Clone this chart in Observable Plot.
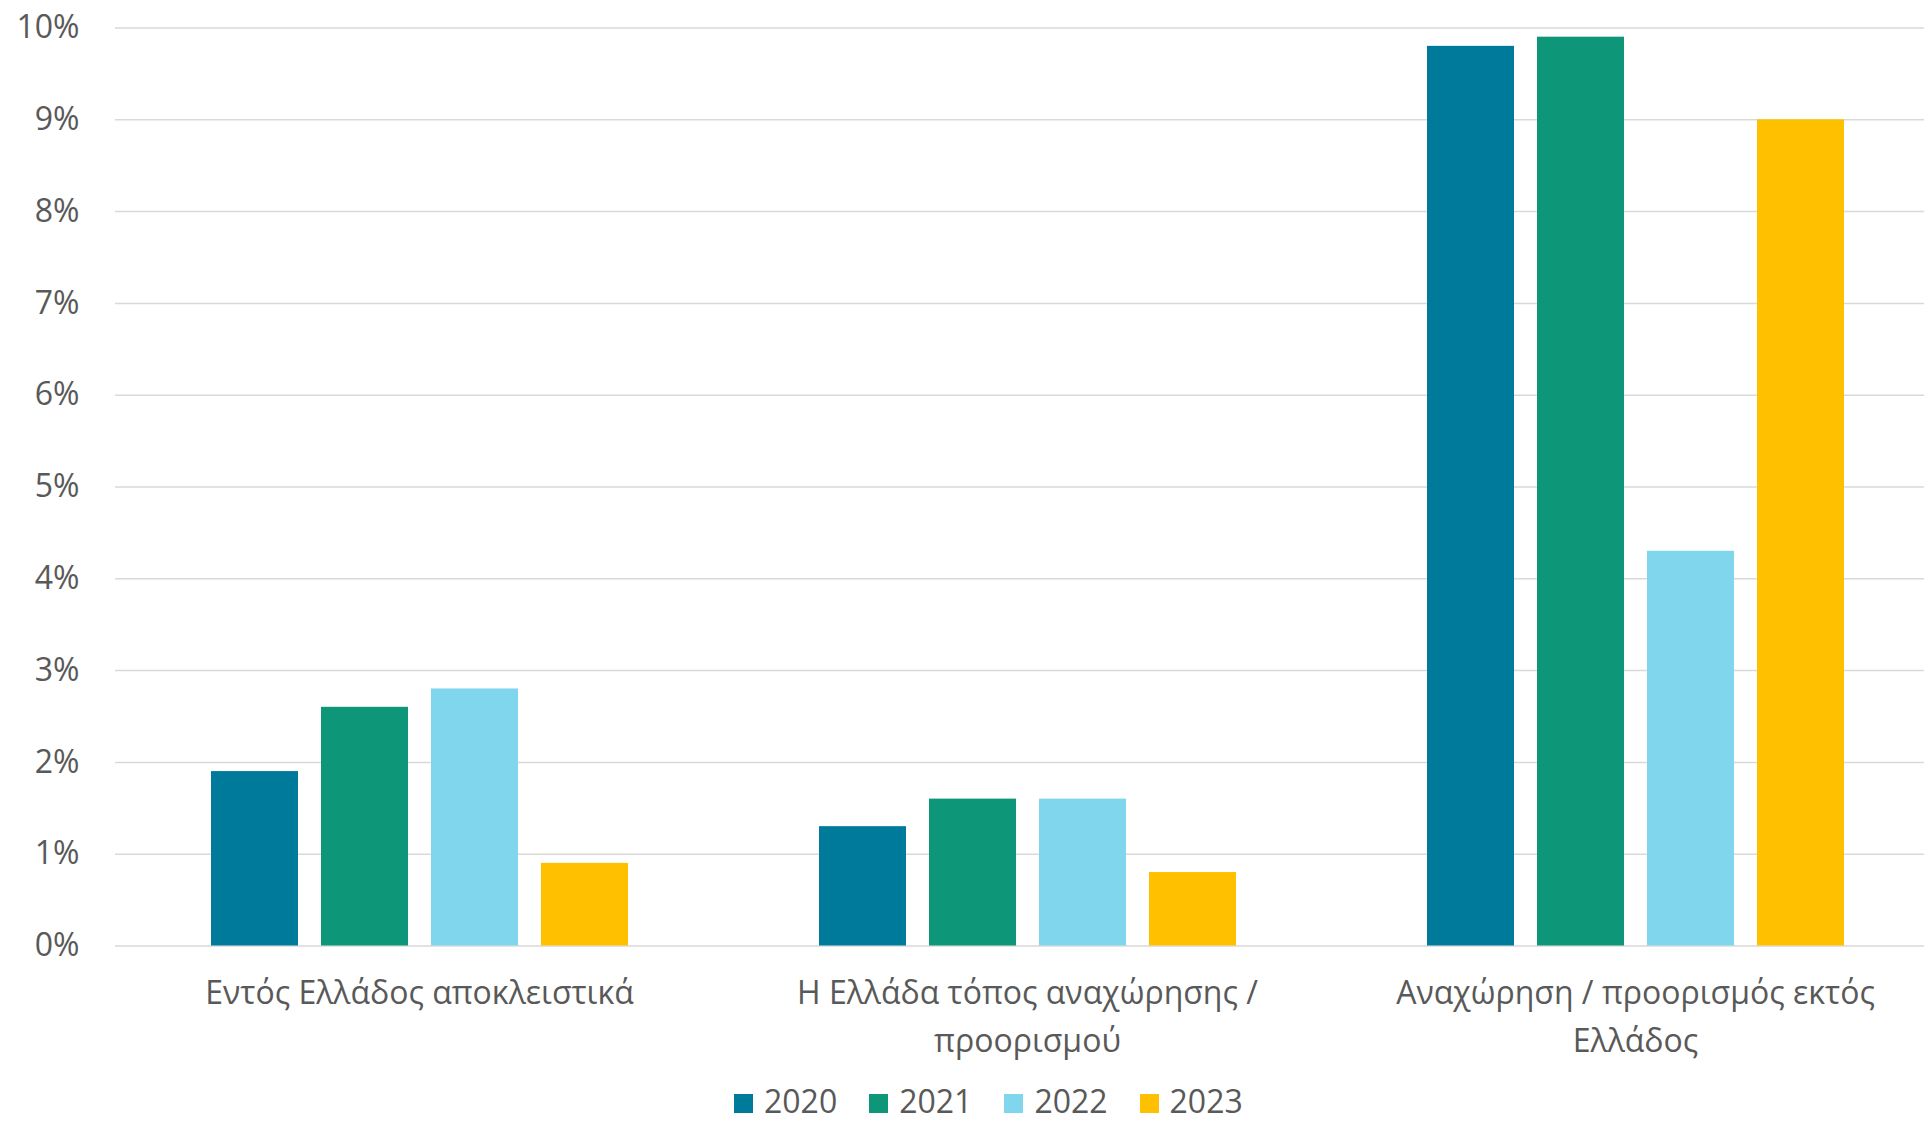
<!DOCTYPE html>
<html><head><meta charset="utf-8">
<script src="https://cdn.jsdelivr.net/npm/d3@7"></script>
<script src="https://cdn.jsdelivr.net/npm/@observablehq/plot@0.6"></script>
<style>
html,body{margin:0;padding:0;background:#fff;}
body{width:1924px;height:1124px;position:relative;overflow:hidden;font-family:"Open Sans",sans-serif;}
#chart svg{display:block;overflow:hidden;}
#legend{position:absolute;left:734px;top:1084px;display:flex;align-items:center;font-size:32px;color:#595959;line-height:34px;}
.item{display:flex;align-items:center;margin-right:32px}
.sw{width:19px;height:19px;margin-right:11px;margin-top:4px}
</style></head><body><div id="chart"></div><div id="legend"></div>
<script>
const categories = ["Εντός Ελλάδος αποκλειστικά", "Η Ελλάδα τόπος αναχώρησης / προορισμού", "Αναχώρηση / προορισμός εκτός Ελλάδος"];
const categoryLabels = ["Εντός Ελλάδος αποκλειστικά", "Η Ελλάδα τόπος αναχώρησης /\nπροορισμού", "Αναχώρηση / προορισμός εκτός\nΕλλάδος"];
const years = ["2020", "2021", "2022", "2023"];
const values2020 = [1.9, 1.3, 9.8];
const values2021 = [2.6, 1.6, 9.9];
const values2022 = [2.8, 1.6, 4.3];
const values2023 = [0.9, 0.8, 9.0];
const colors = ["#007A9B", "#0E9679", "#80D6EC", "#FFC000"];
const yTicks = [0, 1, 2, 3, 4, 5, 6, 7, 8, 9, 10];

const series = [values2020, values2021, values2022, values2023];
const data = [];
categories.forEach((c, i) => years.forEach((y, j) => data.push({category: c, year: y, value: series[j][i]})));

const chart = Plot.plot({
  width: 1924,
  height: 1080,
  marginLeft: 114,
  marginRight: -16,
  marginTop: 27.5,
  marginBottom: 134.5,
  style: {fontFamily: "'Open Sans', sans-serif", fontSize: "32px", color: "#595959", background: "transparent"},
  fx: {domain: categories, padding: 0, label: null},
  x: {domain: years, paddingInner: 0.213, paddingOuter: 0.86, axis: null},
  y: {domain: [0, 10], axis: null},
  color: {domain: years, range: colors},
  marks: [
    Plot.ruleY(yTicks, {stroke: "#D9D9D9", strokeWidth: 1.5}),
    Plot.barY(data, {fx: "category", x: "year", y: "value", fill: "year"}),
    Plot.axisY({ticks: yTicks, tickFormat: d => d + "%", tickSize: 0, tickPadding: 36, fontSize: 32, label: null}),
    Plot.axisFx({anchor: "bottom", tickSize: 0, tickPadding: 24, fontSize: 32, lineHeight: 1.5, label: null,
      tickFormat: d => categoryLabels[categories.indexOf(d)]})
  ]
});
document.getElementById("chart").appendChild(chart);

const legend = document.getElementById("legend");
years.forEach((y, i) => {
  const it = document.createElement("div");
  it.className = "item";
  const sw = document.createElement("div");
  sw.className = "sw";
  sw.style.background = colors[i];
  const t = document.createElement("span");
  t.textContent = y;
  it.appendChild(sw); it.appendChild(t);
  legend.appendChild(it);
});
</script>
</body></html>
